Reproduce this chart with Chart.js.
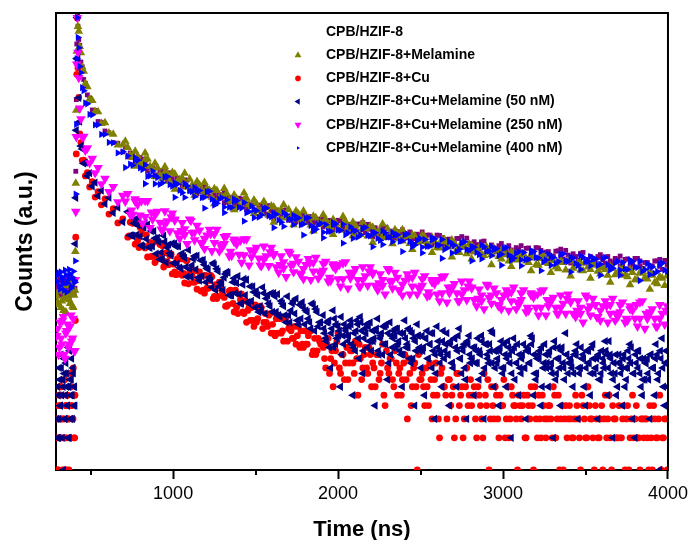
<!DOCTYPE html>
<html><head><meta charset="utf-8">
<script src="https://cdn.jsdelivr.net/npm/chart.js@4.4.1/dist/chart.umd.min.js"></script>
<style>html,body{margin:0;padding:0;background:#fff;}canvas{display:block;}</style>
</head><body>
<canvas id="c" width="692" height="540"></canvas>
<script>
// ---------- data ----------
const timeA = [295,305,315,325,335,345,355,365,375,385,395,405,
 407,410,413,416,
 419,423,428,434,441,449,458,468,480,494,510,527,545,565,587,611,637,665,695,
 725,755,785,815,845,875,905,935,965,995,1025,1055,1085,1115,1145,1175,1205,1235,1265,1295,
 1325,1355,1385,1415,1445,1475,1505,1535,1565,1595,1625,1655,1685,1715,1745,1775,1805,1835,1865,1895,
 1925,1955,1985,2015,2045,2075,2105,2135,2165,2195,2225,2255,2285,2315,2345,2375,2405,2435,2465,2495,
 2525,2555,2585,2615,2645,2675,2705,2735,2765,2795,2825,2855,2885,2915,2945,2975,3005,3035,3065,3095,
 3125,3155,3185,3215,3245,3275,3305,3335,3365,3395,3425,3455,3485,3515,3545,3575,3605,3635,3665,3695,
 3725,3755,3785,3815,3845,3875,3905,3935,3965,3995];

const timeA2 = [740,770,800,830,860,890,920,950,980,1010,1040,1070,1100,1130,1160,1190,1220,1250,1280,1310,
 1340,1370,1400,1430,1460,1490,1520,1550,1580,1610,1640,1670,1700,1730,1760,1790,1820,1850,1880,1910,
 1940,1970,2000,2030,2060,2090,2120,2150,2180,2210,2240,2270,2300,2330,2360,2390,2420,2450,2480,2510,
 2540,2570,2600,2630,2660,2690,2720,2750,2780,2810,2840,2870,2900,2930,2960,2990,3020,3050,3080,3110,
 3140,3170,3200,3230,3260,3290,3320,3350,3380,3410,3440,3470,3500,3530,3560,3590,3620,3650,3680,3710,
 3740,3770,3800,3830,3860,3890,3920,3950,3980];

const timeA3 = [300,310,320,330,340,350,360,370,380,390,400,
 710,770,830,890,950,1010,1070,1130,1190,1250,1310,1370,1430,1490,1550,1610,1670,1730,1790,1850,
 1910,1970,2030,2090,2150,2210,2270,2330,2390,2450,2510,2570,2630,2690,2750,2810,2870,2930,2990,3050,
 3110,3170,3230,3290,3350,3410,3470,3530,3590,3650,3710,3770,3830,3890,3950];

const timeA4 = [748,808,868,928,988,1048,1108,1168,1228,1288,1348,1408,1468,1528,1588,1648,1708,1768,1828,1888,
 1948,2008,2068,2128,2188,2248,2308,2368,2428,2488,2548,2608,2668,2728,2788,2848,2908,2968,3028,3088,
 3148,3208,3268,3328,3388,3448,3508,3568,3628,3688,3748,3808,3868,3928,3988];

const timeB = [295,300,305,310,315,320,325,330,335,340,345,350,355,360,365,370,375,380,385,390,395,400,405,
 407,410,413,416,
 419,423,428,434,441,449,458,468,480,494,510,527,545,565,587,611,637,665,695,
 725,755,785,815,845,875,905,935,965,995,1025,1055,1085,1115,1145,1175,1205,1235,1265,1295,
 1325,1355,1385,1415,1445,1475,1505,1535,1565,1595,1625,1655,1685,1715,1745,1775,1805,1835,1865,1895,
 1910,1925,1940,1955,1970,1985,2000,2015,2030,2045,2060,2075,2090,2105,2120,2135,2150,2165,2180,2195,
 2210,2225,2240,2255,2270,2285,2300,2315,2330,2345,2360,2375,2390,2405,2420,2435,2450,2465,2480,2495,
 2510,2525,2540,2555,2570,2585,2600,2615,2630,2645,2660,2675,2690,2705,2720,2735,2750,2765,2780,2795,
 2810,2825,2840,2855,2870,2885,2900,2915,2930,2945,2960,2975,2990,3005,3020,3035,3050,3065,3080,3095,
 3110,3125,3140,3155,3170,3185,3200,3215,3230,3245,3260,3275,3290,3305,3320,3335,3350,3365,3380,3395,
 3410,3425,3440,3455,3470,3485,3500,3515,3530,3545,3560,3575,3590,3605,3620,3635,3650,3665,3680,3695,
 3710,3725,3740,3755,3770,3785,3800,3815,3830,3845,3860,3875,3890,3905,3920,3935,3950,3965,3980,3995];

const timeB2 = [740,770,800,830,860,890,920,950,980,1010,1040,1070,1100,1130,1160,1190,1220,1250,1280,1310,
 1340,1370,1400,1430,1460,1490,1520,1550,1580,1610,1640,1670,1700,1730,1760,1790,1820,1850,1880,
 1918,1933,1948,1963,1978,1993,2008,2023,2038,2053,2068,2083,2098,2113,2128,2143,2158,2173,2188,2203,
 2218,2233,2248,2263,2278,2293,2308,2323,2338,2353,2368,2383,2398,2413,2428,2443,2458,2473,2488,2503,
 2518,2533,2548,2563,2578,2593,2608,2623,2638,2653,2668,2683,2698,2713,2728,2743,2758,2773,2788,2803,
 2818,2833,2848,2863,2878,2893,2908,2923,2938,2953,2968,2983,2998,3013,3028,3043,3058,3073,3088,3103,
 3118,3133,3148,3163,3178,3193,3208,3223,3238,3253,3268,3283,3298,3313,3328,3343,3358,3373,3388,3403,
 3418,3433,3448,3463,3478,3493,3508,3523,3538,3553,3568,3583,3598,3613,3628,3643,3658,3673,3688,3703,
 3718,3733,3748,3763,3778,3793,3808,3823,3838,3853,3868,3883,3898,3913,3928,3943,3958,3973,3988];

const timeB3 = [298,303,308,313,318,323,328,333,338,343,348,353,358,363,368,373,378,383,388,393,398,403,
 733,748,763,778,793,808,823,838,853,868,883,898,913,928,943,958,973,988,1003,1018,1033,1048,1063,1078,
 1093,1108,1123,1138,1153,1168,1183,1198,1213,1228,1243,1258,1273,1288,1303,1318,1333,1348,1363,1378,
 1393,1408,1423,1438,1453,1468,1483,1498,1513,1528,1543,1558,1573,1588,1603,1618,1633,1648,1663,1678,
 1693,1708,1723,1738,1753,1768,1783,1798,1813,1828,1843,1858,1873,1888];

const timeB4 = [1914,1929,1944,1959,1974,1989,2004,2019,2034,2049,2064,2079,2094,2109,2124,2139,2154,2169,2184,2199,
 2214,2229,2244,2259,2274,2289,2304,2319,2334,2349,2364,2379,2394,2409,2424,2439,2454,2469,2484,2499,
 2514,2529,2544,2559,2574,2589,2604,2619,2634,2649,2664,2679,2694,2709,2724,2739,2754,2769,2784,2799,
 2814,2829,2844,2859,2874,2889,2904,2919,2934,2949,2964,2979,2994,3009,3024,3039,3054,3069,3084,3099,
 3114,3129,3144,3159,3174,3189,3204,3219,3234,3249,3264,3279,3294,3309,3324,3339,3354,3369,3384,3399,
 3414,3429,3444,3459,3474,3489,3504,3519,3534,3549,3564,3579,3594,3609,3624,3639,3654,3669,3684,3699,
 3714,3729,3744,3759,3774,3789,3804,3819,3834,3849,3864,3879,3894,3909,3924,3939,3954,3969,3984];

// CPB/HZIF-8
const countsPure = [52,44,61,47,57,40,55,49,63,45,58,50,
 150,620,2900,9600,
 17200,14060,10570,9320,6520,5870,4470,4120,3210,3010,2320,2300,1810,1780,1476,1420,1152,1133,940,
 844,898,768,805,622,665,573,623,504,530,533,448,512,429,383,431,391,411,349,365,
 321,353,314,341,273,302,270,299,247,264,270,232,270,230,209,238,220,234,202,214,
 193,215,194,215,175,197,179,199,165,178,184,159,186,161,147,169,156,168,145,156,
 140,157,141,156,127,144,131,146,121,131,136,117,138,119,109,125,117,125,109,116,
 105,119,108,119,97,110,100,112,94,102,105,91,108,93,86,99,92,99,86,93,
 84,94,85,95,77,87,81,90,75,82];
const countsPure2 = [920,746,834,673,681,550,631,543,600,478,497,504,406,451,401,446,365,370,378,316,
 355,299,347,290,304,254,299,263,296,240,255,263,216,243,220,249,206,213,221,187,
 215,183,216,183,196,166,199,176,198,163,174,181,150,171,156,176,148,152,160,137,
 157,133,157,134,143,122,146,129,147,120,128,134,111,127,115,131,110,114,120,102,
 118,101,120,102,109,93,111,99,113,93,99,104,86,99,90,103,86,90,95,81,
 93,80,95,81,87,75,90,80,91];
const countsPure3 = [48,59,43,54,62,46,51,41,57,53,45,
 1047,714,750,569,638,442,513,391,418,355,389,286,323,262,309,222,268,211,233,204,
 231,175,205,172,206,151,184,148,165,146,168,128,149,126,152,111,136,110,123,109,
 125,97,113,97,116,86,106,86,97,86,100,77,90,77,93];

// CPB/HZIF-8+Melamine
const countsMelamine = [42,35,50,38,31,46,40,53,36,44,33,48,
 110,480,2300,8200,
 17500,13990,12630,9100,7940,5860,5340,4100,3820,2940,2850,2250,2230,1735,1760,1414,1373,1092,1096,
 1035,832,861,703,809,654,668,534,592,604,497,535,440,461,497,407,430,354,410,358,
 384,321,344,291,347,291,308,251,283,294,247,271,227,242,264,219,233,195,228,202,
 220,187,203,175,211,180,193,159,181,190,161,178,149,161,176,146,157,131,154,137,
 150,126,138,119,143,122,131,108,123,129,109,120,101,109,119,99,106,90,106,95,
 104,87,96,82,100,85,91,76,87,92,77,86,73,79,87,72,78,66,77,69,
 76,64,70,60,72,61,66,55,62,65];
const countsMelamine2 = [880,952,727,793,691,737,571,611,499,584,517,459,524,434,462,382,413,425,353,358,
 333,373,295,334,302,334,266,289,240,287,259,234,272,229,247,207,225,235,197,204,
 192,219,176,202,184,207,167,184,154,186,169,154,180,153,164,138,152,158,133,139,
 130,149,120,137,125,141,114,126,105,126,114,104,122,103,111,94,103,109,92,96,
 90,102,83,95,87,99,79,88,74,90,81,74,88,75,82,68,75,80,67,69,
 66,75,60,69,63,71,57,63,53];
const countsMelamine3 = [37,47,33,51,41,30,45,39,54,34,43,
 1180,692,921,553,682,422,593,371,487,308,427,271,388,250,323,207,302,196,263,171,
 243,159,234,155,206,134,199,130,176,115,157,108,143,98,134,94,121,83,113,80,
 105,73,99,70,90,65,86,62,80,57,76,54,70,49,64];

// CPB/HZIF-8+Cu
const countsCu = [2,1,4,3,6,2,5,1,3,7,2,4,1,5,3,8,2,6,4,3,9,2,5,
 25,150,900,5000,
 16800,5730,3040,1385,1151,783,789,561,602,443,496,356,400,301,343,247,277,204,223,
 150,202,139,180,98,131,94,125,88,68,94,66,91,65,49,65,50,64,40,48,
 34,47,33,44,24,33,24,33,24,19,26,19,27,20,15,20,15,20,12,15,
 14,9,17,11,6,13,19,8,12,10, 7,13,10,16,5,11,9,14,8,12,
 10,6,12,8,15,4,9,11,7,13, 5,9,7,12,3,8,6,10,1,7,
 8,4,6,10,3,7,5,2,9,6, 3,7,5,2,8,4,6,3,9,5,
 4,6,2,5,3,8,4,1,6,3, 5,2,4,7,3,2,6,4,3,5,
 3,5,2,4,6,1,3,5,2,4, 2,4,3,6,2,5,3,1,4,3,
 3,2,5,3,1,4,2,6,3,2, 4,2,3,1,5,3,2,4,3,2,
 2,3,1,4,2,5,3,2,1,3, 3,2,4,1,3,2,5,2,3,1];
const countsCu2 = [207,129,185,119,134,87,128,89,101,71,100,56,70,57,71,45,59,42,57,41,
 47,30,44,29,33,22,33,24,28,19,28,16,21,17,22,14,18,13,17,
 11,15,8,13,10,16,9,12,7,14, 10,13,8,11,15,7,12,9,14,6,
 9,12,7,10,5,13,8,11,6,10, 8,5,10,7,11,4,9,6,12,7,
 6,9,4,7,5,10,3,8,6,5, 7,4,6,3,8,5,2,6,4,7,
 5,3,6,4,2,5,7,3,4,6, 3,5,4,2,6,3,5,4,1,4,
 4,2,5,3,4,6,2,3,5,3, 3,4,2,5,3,1,4,3,2,4,
 2,3,4,2,5,3,2,4,3,1, 3,2,4,3,2,5,1,3,2,4,
 2,4,3,1,3,2,4,2,3,2, 3,1,2,4,2,3,1,2,3];
const countsCu3 = [3,1,5,2,4,6,2,3,1,7,4,2,5,3,1,6,2,4,8,3,5,2,
 154,210,155,203,120,162,124,157,124,99,100,137,100,132,79,107,83,104,84,67,
 68,94,69,91,55,74,57,73,59,47,48,66,50,66,40,54,42,53,43,34,
 35,48,36,48,29,39,30,38,31,25,25,35,26,34,21,29,22,29,23,18,
 19,26,20,26,16,22,17,22,18,14,15,20,15,20,12,17,13,16];

// CPB/HZIF-8+Cu+Melamine (50 nM)
const countsCuMel50 = [3,6,2,9,4,12,5,7,1,8,3,10,6,4,14,2,7,5,11,3,8,6,4,
 130,350,1500,7000,
 17000,7130,3010,1810,1069,1003,734,748,561,596,448,486,365,409,307,351,253,284,208,
 260,154,195,123,196,123,148,94,120,131,85,106,64,82,101,65,77,51,76,55,
 71,43,56,36,60,38,47,31,40,45,30,38,24,31,40,26,31,21,32,24,
 28,17,24,9,31,15,22,6,18,21, 16,25,5,13,23,27,8,21,14,24,
 20,4,26,17,12,22,7,24,14,18, 21,13,6,25,15,11,19,4,23,14,
 18,5,20,15,9,3,22,13,6,11, 19,4,10,17,6,21,8,15,3,18,
 11,5,13,7,18,3,15,10,20,6, 13,4,16,9,6,14,2,17,10,5,
 8,15,3,13,18,5,7,12,4,9, 12,6,9,2,7,14,4,10,19,8,
 11,6,13,3,9,12,4,10,5,15, 9,3,7,11,16,5,12,2,8,6,
 10,4,6,9,15,3,2,13,8,5, 7,11,3,9,5,12,1,17,4,6];
const countsCuMel50_2 = [156,221,153,204,119,147,93,136,106,131,78,96,76,100,59,83,63,83,52,63,
 43,62,44,61,36,46,30,45,36,45,28,34,28,38,23,33,26,35,22,
 19,24,14,21,26,17,20,12,23,18, 22,15,19,25,11,20,17,23,16,13,
 17,21,12,19,15,23,10,18,20,14, 16,12,19,14,21,10,17,13,18,9,
 14,17,11,19,13,8,16,12,20,15, 12,16,9,14,18,11,13,7,15,10,
 14,10,17,12,8,15,11,13,19,9, 11,14,8,12,16,10,13,7,15,9,
 12,9,14,10,17,8,11,13,6,15, 10,13,8,16,11,9,14,7,12,10,
 9,12,15,8,11,6,13,10,14,8, 11,7,13,9,12,16,8,10,5,12,
 9,12,7,11,14,8,10,13,6,11, 10,7,12,9,15,8,11,6,13];
const countsCuMel50_3 = [2,5,3,7,4,9,2,6,11,3,5,8,4,2,6,13,3,7,5,9,4,6,
 254,156,202,158,227,126,184,144,121,171,171,105,135,108,155,87,128,101,86,123,
 123,76,100,79,114,64,94,75,63,91,92,57,75,59,86,48,72,57,48,68,
 70,43,57,45,65,36,54,43,37,52,52,33,43,34,51,29,43,34,30,42,
 44,27,36,28,42,24,36,29,25,35,37,23,30,24,36,20,30,24];
const countsCuMel50_4 = [21,16,25,19,14,23,18,27,15,20, 18,23,14,20,17,24,13,19,22,16,
 16,20,13,18,22,15,19,12,17,21, 15,19,12,17,14,20,11,16,18,13,
 13,17,11,15,19,12,14,10,16,13, 12,15,10,17,13,11,14,9,16,12,
 11,14,10,13,16,9,12,15,10,13, 10,13,9,15,11,12,8,14,10,12,
 11,9,13,10,15,12,8,11,14,10, 9,12,10,14,8,11,13,9,12,10,
 10,8,12,9,14,11,9,13,8,11, 9,12,8,10,13,9,11,7,12,10,
 8,11,9,13,10,8,12,9,11,7, 10,8,12,9,11,7,13,9,10];

// CPB/HZIF-8+Cu+Melamine (250 nM)
const countsCuMel250 = [18,12,24,15,27,11,20,14,22,16,26,13,
 60,260,1300,6200,
 16900,8000,4640,2400,1910,1300,1310,970,1021,742,814,598,669,472,529,398,445,320,367,
 382,244,303,202,328,220,261,174,212,251,164,205,130,165,193,130,156,112,177,119,
 155,101,129,87,144,98,120,81,100,120,79,100,64,82,98,67,83,60,97,67,
 89,59,76,52,88,62,76,52,65,79,53,68,44,58,70,48,59,44,70,49,
 65,43,55,38,65,45,55,38,48,58,39,49,32,41,50,34,43,31,51,35,
 48,31,41,28,48,34,41,29,36,44,29,38,24,32,40,27,34,24,40,27,
 37,25,31,22,38,26,32,22,29,34];
const countsCuMel250_2 = [244,341,240,329,184,247,206,263,171,220,146,179,221,141,174,117,177,133,111,151,
 100,143,103,144,82,111,95,123,81,105,70,88,110,71,89,61,94,72,62,85,
 58,84,61,86,50,70,60,79,53,70,48,60,76,50,63,43,68,52,44,61,
 42,60,44,64,37,51,45,58,39,51,34,43,54,36,45,32,48,38,32,45,
 30,45,33,47,28,38,33,43,29,38,27,33,43,28,35,25,38,29,25,35,
 24,34,26,37,21,30,26,35,23];
const countsCuMel250_3 = [21,14,17,25,12,19,23,15,28,17,13,
 325,324,233,245,199,215,158,167,146,160,130,136,102,110,93,102,77,85,76,87,
 73,80,61,69,60,68,53,59,54,63,53,57,45,50,44,50,38,43,39,46,
 39,43,33,38,33,37,29,34,31,35,30,32,26,29,26];
const countsCuMel250_4 = [268,328,257,178,231,172,214,134,161,128,110,140,114,82,109,83,106,69,86,71,
 63,83,70,52,72,56,74,48,62,51,46,60,51,38,52,40,53,35,44,37,
 33,44,39,29,40,31,41,27,34,29,26,35,29,22,31];

// CPB/HZIF-8+Cu+Melamine (400 nM)
const countsCuMel400 = [58,70,49,64,55,74,46,61,68,52,72,57,
 90,380,1700,7000,
 16900,11040,8840,5920,5170,3760,3510,2700,2650,2106,2090,1680,1686,1370,1375,1152,1143,920,943,
 865,706,785,644,556,622,541,484,554,451,471,391,452,401,408,352,399,340,311,351,
 336,285,330,281,253,294,266,242,281,233,246,207,244,220,225,196,225,193,178,202,
 197,170,200,174,158,187,172,158,185,154,165,140,165,150,156,137,158,137,127,146,
 143,123,145,126,115,136,126,116,136,113,121,103,122,111,115,101,118,102,96,110,
 108,93,110,96,88,105,97,89,105,89,96,82,97,89,93,82,95,83,77,89,
 87,75,89,78,72,85,79,72,86,72];
const countsCuMel400_2 = [724,793,668,712,561,567,468,550,466,485,412,474,406,359,409,354,403,324,340,287,
 287,326,286,317,260,273,231,277,238,252,217,254,221,197,227,199,228,185,196,167,
 170,197,176,198,165,175,150,182,157,167,146,172,150,136,158,139,161,132,140,121,
 123,142,127,143,119,129,110,133,115,123,108,127,111,101,117,104,120,99,106,92,
 93,108,97,110,92,99,85,104,90,98,86,101,89,81,94,84,97,80,86,74,
 76,88,79,89,75,81,69,84,74];
const countsCuMel400_3 = [66,53,71,60,48,67,56,75,50,63,59,
 671,830,474,473,545,354,353,439,280,299,254,342,212,228,274,184,189,241,157,171,
 148,206,132,146,180,122,128,166,110,122,107,149,95,107,132,90,94,123,82,91,
 81,113,73,82,103,71,75,99,66,74,66,92,59,67,83];

const seriesNames = ['CPB/HZIF-8','CPB/HZIF-8+Melamine','CPB/HZIF-8+Cu',
 'CPB/HZIF-8+Cu+Melamine (50 nM)','CPB/HZIF-8+Cu+Melamine (250 nM)','CPB/HZIF-8+Cu+Melamine (400 nM)'];
const xTickValues = [500,1000,1500,2000,2500,3000,3500,4000];
const xTickLabels = ['','1000','','2000','','3000','','4000'];

// ---------- styles ----------
const FONT = "'Liberation Sans', Arial, Helvetica, sans-serif";
const seriesDefs = [
 {parts: [[timeA, countsPure], [timeA2, countsPure2], [timeA3, countsPure3]],
  color:'#800080', style:'rect', rot:0, r:3.4, lr:0, order:6},
 {parts: [[timeA, countsMelamine], [timeA2, countsMelamine2], [timeA3, countsMelamine3]],
  color:'#808000', style:'triangle', rot:0, r:5, lr:4, order:5},
 {parts: [[timeB, countsCu], [timeB2, countsCu2], [timeB3, countsCu3]],
  color:'#FF0000', style:'circle', rot:0, r:3.4, lr:2.8, order:4},
 {parts: [[timeB, countsCuMel50], [timeB2, countsCuMel50_2], [timeB3, countsCuMel50_3], [timeB4, countsCuMel50_4]],
  color:'#000080', style:'triangle', rot:270, r:4.8, lr:3.5, order:3},
 {parts: [[timeA, countsCuMel250], [timeA2, countsCuMel250_2], [timeA3, countsCuMel250_3], [timeA4, countsCuMel250_4]],
  color:'#FF00FF', style:'triangle', rot:180, r:5.6, lr:4, order:2},
 {parts: [[timeA, countsCuMel400], [timeA2, countsCuMel400_2], [timeA3, countsCuMel400_3]],
  color:'#0000FF', style:'triangle', rot:90, r:4.2, lr:2, order:1}
];

const datasets = seriesDefs.map((d, k) => ({
  label: seriesNames[k],
  data: d.parts.flatMap(([ts, vs]) => ts.map((t, i) => ({x: t, y: vs[i]}))),
  showLine: false,
  pointStyle: d.style,
  rotation: d.rot,
  pointRadius: d.r,
  pointBackgroundColor: d.color,
  pointBorderColor: d.color,
  pointBorderWidth: 0,
  backgroundColor: d.color,
  borderColor: d.color,
  order: d.order,
  clip: 0
}));

const overlay = {
  id: 'overlay',
  afterDraw(chart) {
    const {ctx, chartArea: a, scales} = chart;
    const x = scales.x;
    ctx.save();
    ctx.strokeStyle = '#000';
    ctx.lineWidth = 2;
    ctx.beginPath();
    ctx.moveTo(a.left - 1, a.top);
    ctx.lineTo(a.right, a.top);
    ctx.lineTo(a.right, a.bottom + 1);
    ctx.stroke();
    xTickValues.forEach(v => {
      if (v % 1000 !== 0) {
        const px = Math.round(x.getPixelForValue(v));
        ctx.beginPath();
        ctx.moveTo(px, a.bottom);
        ctx.lineTo(px, a.bottom + 5);
        ctx.stroke();
      }
    });
    ctx.font = 'bold 14px ' + FONT;
    ctx.textBaseline = 'middle';
    ctx.textAlign = 'left';
    seriesDefs.forEach((d, k) => {
      const y = a.top + 19 + k * 23.2;
      ctx.fillStyle = '#000';
      ctx.fillText(seriesNames[k], a.left + 270, y);
      if (d.lr > 0) {
        ctx.fillStyle = d.color;
        ctx.strokeStyle = d.color;
        Chart.helpers.drawPoint(ctx, {pointStyle: d.style, rotation: d.rot, radius: d.lr, borderWidth: 0}, a.left + 242, y);
      }
    });
    ctx.restore();
  }
};

new Chart(document.getElementById('c'), {
  type: 'scatter',
  data: {datasets},
  options: {
    responsive: false,
    animation: false,
    devicePixelRatio: 1,
    layout: {padding: {left: 10, right: 22, top: 13, bottom: 0}},
    plugins: {legend: {display: false}, tooltip: {enabled: false}},
    scales: {
      x: {
        type: 'linear', min: 290, max: 4000,
        afterBuildTicks: s => { s.ticks = xTickValues.map(v => ({value: v})); },
        ticks: {
          callback: (v, i) => xTickLabels[i],
          font: {family: FONT, size: 18, lineHeight: 1.2},
          color: '#000', padding: 4, maxRotation: 0, autoSkip: false
        },
        grid: {
          display: true, drawOnChartArea: false, drawTicks: true, tickLength: 9, tickWidth: 2,
          tickColor: c => (c.tick && c.tick.value % 1000 === 0) ? '#000' : 'rgba(0,0,0,0)'
        },
        border: {display: true, color: '#000', width: 2},
        title: {display: true, text: 'Time (ns)', color: '#000',
          font: {family: FONT, size: 22, weight: 'bold', lineHeight: 0.9},
          padding: {top: 11.6, bottom: 0}}
      },
      y: {
        type: 'logarithmic', min: 1, max: 18700,
        ticks: {display: false},
        grid: {display: false, drawTicks: false},
        border: {display: true, color: '#000', width: 2},
        title: {display: true, text: 'Counts (a.u.)', color: '#000',
          font: {family: FONT, size: 23, weight: 'bold', lineHeight: 1.2},
          padding: {top: 2, bottom: 16.4}}
      }
    }
  },
  plugins: [overlay]
});
</script>
</body></html>
